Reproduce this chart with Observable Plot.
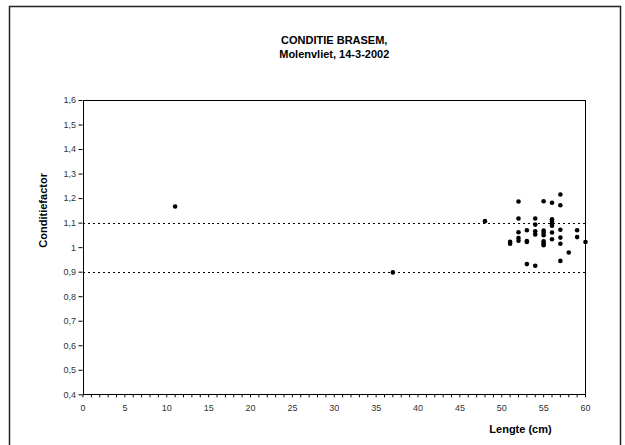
<!DOCTYPE html>
<html><head><meta charset="utf-8">
<script src="https://cdn.jsdelivr.net/npm/d3@7"></script>
<script src="https://cdn.jsdelivr.net/npm/@observablehq/plot@0.6"></script>
<style>
body{margin:0;background:#fff;}
svg{font-family:"Liberation Sans",Arial,sans-serif;}
</style></head><body>
<div id="chart"></div>
<script>
const titleLines = ["CONDITIE BRASEM,", "Molenvliet, 14-3-2002"];
const xLabel = "Lengte (cm)";
const yLabel = "Conditiefactor";
const refLines = [1.1, 0.9];
const lengths = [11, 37, 48, 52, 52, 52, 52, 52, 51, 51, 53, 53, 53, 53, 54, 54, 54, 54, 54,
  55, 55, 55, 55, 55, 55, 55, 56, 56, 56, 56, 56, 56, 56, 57, 57, 57, 57, 57, 57, 58, 59, 59, 60];
const factors = [1.168, 0.899, 1.108, 1.188, 1.119, 1.063, 1.039, 1.028, 1.024, 1.016, 1.071, 1.027, 1.023, 0.933,
  1.119, 1.094, 1.067, 1.054, 0.926,
  1.189, 1.070, 1.061, 1.051, 1.026, 1.018, 1.010,
  1.183, 1.116, 1.107, 1.097, 1.089, 1.062, 1.034,
  1.217, 1.173, 1.073, 1.041, 1.016, 0.946,
  0.980, 1.071, 1.043, 1.023];
const yTicks = [0.4,0.5,0.6,0.7,0.8,0.9,1.0,1.1,1.2,1.3,1.4,1.5,1.6];
const xTicks = d3.range(0, 61, 1);

const data = lengths.map((x, i) => ({x, y: factors[i]}));
const fmtY = d => Math.abs(d - Math.round(d)) < 1e-9 ? String(Math.round(d)) : d3.format(".1f")(d).replace(".", ",");

const W = 625, H = 445;
const plot = Plot.plot({
  width: W, height: H,
  marginLeft: 82.5, marginRight: 40, marginTop: 100, marginBottom: 50.7,
  style: {fontFamily: "Liberation Sans, Arial, sans-serif", background: "#fff"},
  x: {domain: [0, 60]},
  y: {domain: [0.4, 1.6]},
  marks: [
    Plot.ruleY(refLines, {stroke: "#000", strokeDasharray: "2,3", strokeWidth: 1, shapeRendering: "crispEdges"}),
    Plot.frame({stroke: "#000", strokeWidth: 1, shapeRendering: "crispEdges"}),
    Plot.axisY({ticks: yTicks, tickFormat: fmtY, tickSize: 4, tickPadding: 3, fontSize: 9, fill: "#333", label: null}),
    Plot.axisX({ticks: xTicks, tickFormat: d => d % 5 === 0 ? String(d) : "", tickSize: 3, tickPadding: 7, fontSize: 9, fill: "#333", label: null}),
    Plot.dot(data, {x: "x", y: "y", r: 2.3, fill: "#000", stroke: "none"}),
    Plot.text([titleLines.join("\n")], {frameAnchor: "top", dy: -67, fontSize: 11, fontWeight: "bold", lineHeight: 1.3, fill: "#000"}),
    Plot.text([xLabel], {frameAnchor: "bottom-right", dx: -65, dy: 38, fontSize: 11, fontWeight: "bold", fill: "#000", textAnchor: "middle"}),
    Plot.text([yLabel], {frameAnchor: "left", dx: -40, rotate: -90, fontSize: 11, fontWeight: "bold", fill: "#000"})
  ]
});
d3.select(plot).append("rect")
  .attr("x", 9.5).attr("y", 6.5).attr("width", 611).attr("height", 460)
  .attr("fill", "none").attr("stroke", "#222").attr("stroke-width", 1.5);
document.getElementById("chart").appendChild(plot);
</script></body></html>
